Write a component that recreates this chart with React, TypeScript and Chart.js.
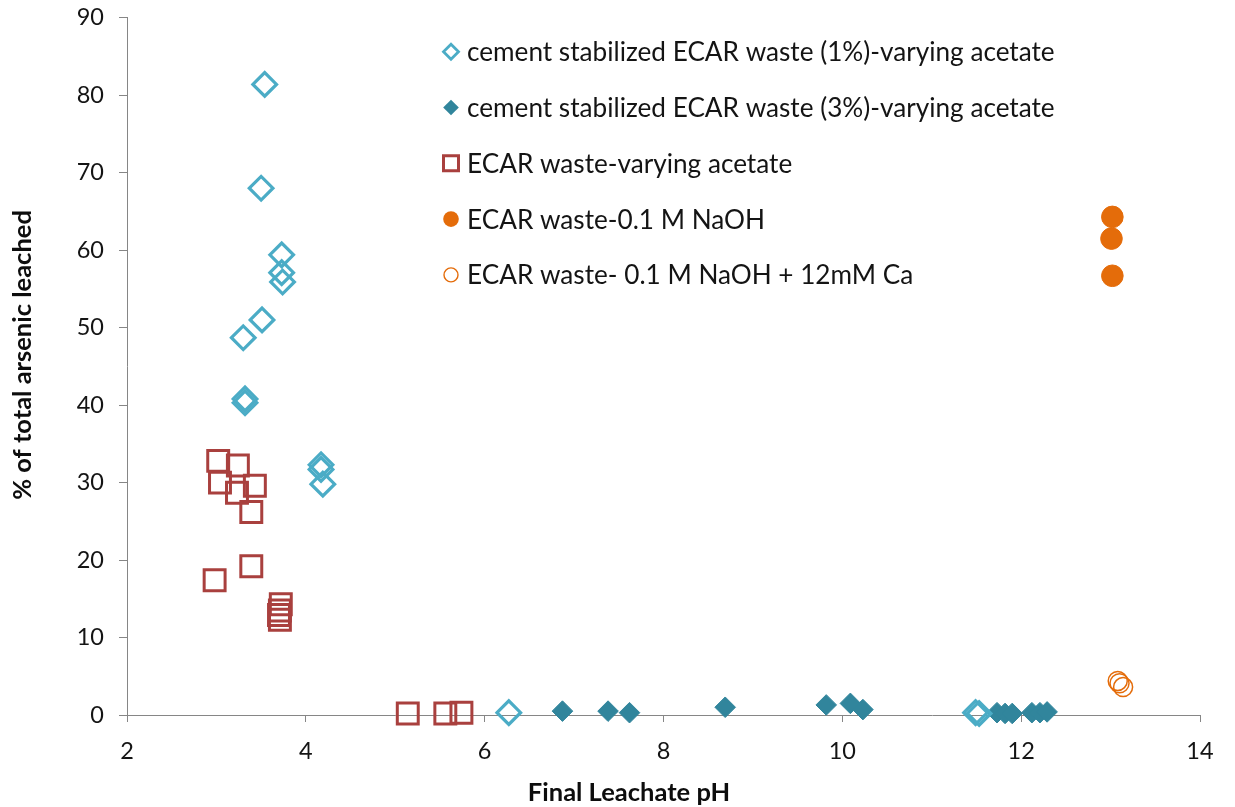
import { useEffect, useRef } from "react";
import { Chart, registerables } from "chart.js";

Chart.register(...registerables);

const WIDTH = 1235;
const HEIGHT = 807;

// Final leachate pH (x) and % of total arsenic leached (y) for each sample set
const cement1pH = [3.54, 3.5, 3.73, 3.73, 3.74, 3.51, 3.3, 3.32, 3.32, 4.17, 4.17, 4.19, 6.27, 11.49, 11.53];
const cement1As = [81.4, 68.0, 59.4, 57.1, 55.9, 51.0, 48.7, 40.8, 40.3, 32.3, 31.7, 29.8, 0.3, 0.3, 0.2];

const cement3pH = [6.87, 7.38, 7.62, 8.69, 9.82, 10.09, 10.23, 11.73, 11.82, 11.9, 12.12, 12.21, 12.29];
const cement3As = [0.5, 0.5, 0.3, 1.0, 1.3, 1.5, 0.7, 0.3, 0.2, 0.2, 0.3, 0.3, 0.4];

const acetatePH = [3.02, 3.24, 3.04, 3.43, 3.23, 3.39, 2.98, 3.39, 3.72, 3.71, 3.7, 3.71, 5.14, 5.56, 5.74];
const acetateAs = [32.8, 32.2, 30.0, 29.6, 28.7, 26.2, 17.4, 19.2, 14.3, 13.5, 12.9, 12.3, 0.2, 0.2, 0.3];

const naohPH = [13.02, 13.01, 13.02];
const naohAs = [64.3, 61.5, 56.7];

const naohCaPH = [13.08, 13.1, 13.14];
const naohCaAs = [4.4, 4.1, 3.6];

const seriesLabels = [
  "cement stabilized ECAR waste (1%)-varying acetate",
  "cement stabilized ECAR waste (3%)-varying acetate",
  "ECAR waste-varying acetate",
  "ECAR waste-0.1 M NaOH",
  "ECAR waste- 0.1 M NaOH + 12mM Ca",
];

const xTickValues = [2, 4, 6, 8, 10, 12, 14];
const yTickValues = [0, 10, 20, 30, 40, 50, 60, 70, 80, 90];

const xTitle = "Final Leachate pH";
const yTitle = "% of total arsenic leached";

const AQUA = "#4BACC6";
const TEAL = "#31859C";
const BRICK = "#A9403E";
const ORANGE = "#E46C0A";
const AXIS = "#868686";
const TEXT = "#141414";
const FAMILY = 'Lato, "Open Sans", "DejaVu Sans", sans-serif';

const toPoints = (xs: number[], ys: number[]) => xs.map((x, i) => ({ x, y: ys[i] }));

type MarkerKind = "openDiamond" | "diamond" | "openSquare" | "circle" | "openCircle";

const legendMarkers: { kind: MarkerKind; color: string }[] = [
  { kind: "openDiamond", color: AQUA },
  { kind: "diamond", color: TEAL },
  { kind: "openSquare", color: BRICK },
  { kind: "circle", color: ORANGE },
  { kind: "openCircle", color: ORANGE },
];

function drawMarker(ctx: CanvasRenderingContext2D, kind: MarkerKind, color: string, x: number, y: number) {
  ctx.save();
  ctx.strokeStyle = color;
  ctx.fillStyle = color;
  ctx.lineJoin = "miter";
  ctx.beginPath();
  if (kind === "openDiamond" || kind === "diamond") {
    const r = kind === "openDiamond" ? 7.5 : 7.8;
    ctx.moveTo(x - r, y);
    ctx.lineTo(x, y - r);
    ctx.lineTo(x + r, y);
    ctx.lineTo(x, y + r);
    ctx.closePath();
    if (kind === "diamond") ctx.fill();
    else {
      ctx.lineWidth = 2.8;
      ctx.stroke();
    }
  } else if (kind === "openSquare") {
    const h = 7.5;
    ctx.rect(x - h, y - h, 2 * h, 2 * h);
    ctx.lineWidth = 3;
    ctx.stroke();
  } else if (kind === "circle") {
    ctx.arc(x, y, 7.8, 0, Math.PI * 2);
    ctx.fill();
  } else {
    ctx.arc(x, y, 7, 0, Math.PI * 2);
    ctx.lineWidth = 1.4;
    ctx.stroke();
  }
  ctx.restore();
}

// Legend inside the plot area and the two axis titles
const overlayPlugin = {
  id: "legendAndTitles",
  afterDraw(chart: Chart) {
    const ctx = chart.ctx;
    ctx.save();

    // legend
    const legendX = 451;
    const legendTop = 51.7;
    const rowStep = 55.8;
    const textX = 467;
    let size = 24;
    ctx.font = `${size}px ${FAMILY}`;
    const widest = Math.max(...seriesLabels.map((t) => ctx.measureText(t).width));
    size = (size * 588) / widest;
    ctx.font = `${size}px ${FAMILY}`;
    ctx.textBaseline = "middle";
    ctx.textAlign = "left";
    seriesLabels.forEach((label, i) => {
      const y = legendTop + i * rowStep;
      drawMarker(ctx, legendMarkers[i].kind, legendMarkers[i].color, legendX, y);
      ctx.fillStyle = TEXT;
      ctx.fillText(label, textX, y + 1);
    });

    // axis titles
    ctx.font = `bold 25.5px ${FAMILY}`;
    ctx.fillStyle = "#0d0d0d";
    ctx.textAlign = "center";
    ctx.textBaseline = "middle";
    ctx.fillText(xTitle, 629, 793);

    ctx.translate(23, 355);
    ctx.rotate(-Math.PI / 2);
    ctx.fillText(yTitle, 0, 0);
    ctx.restore();
  },
};

export default function App() {
  const canvasRef = useRef<HTMLCanvasElement | null>(null);

  useEffect(() => {
    const canvas = canvasRef.current;
    if (!canvas) return;

    const chart = new Chart(canvas, {
      type: "scatter",
      data: {
        datasets: [
          {
            label: seriesLabels[0],
            data: toPoints(cement1pH, cement1As),
            pointStyle: "rectRot",
            pointRadius: 11.8,
            pointBorderWidth: 3.2,
            borderColor: AQUA,
            backgroundColor: "rgba(0,0,0,0)",
            clip: false,
          },
          {
            label: seriesLabels[1],
            data: toPoints(cement3pH, cement3As),
            pointStyle: "rectRot",
            pointRadius: 10.3,
            pointBorderWidth: 1,
            borderColor: TEAL,
            backgroundColor: TEAL,
            clip: false,
          },
          {
            label: seriesLabels[2],
            data: toPoints(acetatePH, acetateAs),
            pointStyle: "rect",
            pointRadius: 14.8,
            pointBorderWidth: 3,
            borderColor: BRICK,
            backgroundColor: "rgba(0,0,0,0)",
            clip: false,
          },
          {
            label: seriesLabels[3],
            data: toPoints(naohPH, naohAs),
            pointStyle: "circle",
            pointRadius: 10.8,
            pointBorderWidth: 1,
            borderColor: ORANGE,
            backgroundColor: ORANGE,
            clip: false,
          },
          {
            label: seriesLabels[4],
            data: toPoints(naohCaPH, naohCaAs),
            pointStyle: "circle",
            pointRadius: 9.5,
            pointBorderWidth: 1.5,
            borderColor: ORANGE,
            backgroundColor: "rgba(0,0,0,0)",
            clip: false,
          },
        ],
      },
      options: {
        responsive: false,
        animation: false,
        devicePixelRatio: 1,
        layout: { padding: { top: 16, right: 35, bottom: 0, left: 0 } },
        plugins: {
          legend: { display: false },
          tooltip: { enabled: false },
          title: { display: false },
        },
        scales: {
          x: {
            type: "linear",
            min: xTickValues[0],
            max: xTickValues[xTickValues.length - 1],
            afterBuildTicks: (scale: any) => {
              scale.ticks = xTickValues.map((value) => ({ value }));
            },
            afterFit: (scale: any) => {
              scale.height = 92;
              scale.paddingLeft = 0;
              scale.paddingRight = 0;
            },
            border: { color: AXIS, width: 1 },
            grid: { drawOnChartArea: false, drawTicks: true, tickLength: 7, color: AXIS },
            ticks: {
              color: TEXT,
              font: { family: FAMILY, size: 23.5 },
              padding: 15,
              maxRotation: 0,
            },
          },
          y: {
            type: "linear",
            min: yTickValues[0],
            max: yTickValues[yTickValues.length - 1],
            afterBuildTicks: (scale: any) => {
              scale.ticks = yTickValues.map((value) => ({ value }));
            },
            afterFit: (scale: any) => {
              scale.width = 127;
              scale.paddingTop = 0;
              scale.paddingBottom = 0;
            },
            border: { color: AXIS, width: 1 },
            grid: { drawOnChartArea: false, drawTicks: true, tickLength: 8, color: AXIS },
            ticks: {
              color: TEXT,
              font: { family: FAMILY, size: 23.5 },
              padding: 15,
            },
          },
        },
      },
      plugins: [overlayPlugin],
    });

    return () => chart.destroy();
  }, []);

  return (
    <div style={{ position: "fixed", left: 0, top: 0, width: WIDTH, height: HEIGHT, background: "#fff" }}>
      <canvas ref={canvasRef} width={WIDTH} height={HEIGHT} style={{ display: "block", width: WIDTH, height: HEIGHT }} />
    </div>
  );
}
